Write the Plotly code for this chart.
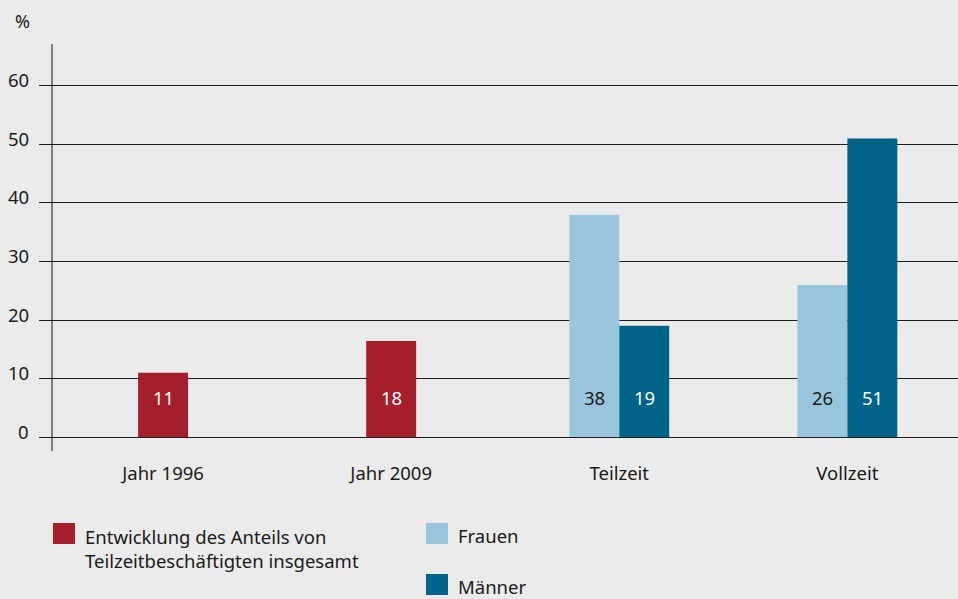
import plotly.graph_objects as go

categories = ["Jahr 1996", "Jahr 2009", "Teilzeit", "Vollzeit"]
gesamt_cats = ["Jahr 1996", "Jahr 2009"]
gesamt_values = [11, 16.4]
gesamt_labels = ["11", "18"]
gruppen_cats = ["Teilzeit", "Vollzeit"]
frauen_values = [38, 26]
maenner_values = [19, 51]
y_ticks = [0, 10, 20, 30, 40, 50, 60]

RED = "#a41f2b"
LIGHT = "#98c5dc"
DARK = "#006488"
BG = "#ebebeb"
TXT = "#1a1a1a"
FONT = "Noto Sans"
FS = 18.5
BW = 0.219

W, H = 958, 599
ML, MR, MT, MB = 39, 0, 80, 159
PW, PH = W - ML - MR, H - MT - MB

fig = go.Figure()
fig.add_trace(go.Bar(x=gesamt_cats, y=gesamt_values, width=BW, offset=-BW / 2,
                     marker=dict(color=RED, line=dict(width=0)),
                     name="Entwicklung des Anteils von Teilzeitbeschäftigten insgesamt"))
fig.add_trace(go.Bar(x=gruppen_cats, y=frauen_values, width=BW, offset=-BW,
                     marker=dict(color=LIGHT, line=dict(width=0)), name="Frauen"))
fig.add_trace(go.Bar(x=gruppen_cats, y=maenner_values, width=BW, offset=0,
                     marker=dict(color=DARK, line=dict(width=0)), name="Männer"))

annotations = []
for c, t in zip(gesamt_cats, gesamt_labels):
    annotations.append(dict(x=c, y=0, text=t, showarrow=False, yshift=40,
                            font=dict(color="white", size=FS, family=FONT)))
for c, v in zip(gruppen_cats, frauen_values):
    annotations.append(dict(x=c, y=0, text=str(v), showarrow=False, yshift=40, xshift=-BW * 228.1 / 2,
                            font=dict(color=TXT, size=FS, family=FONT)))
for c, v in zip(gruppen_cats, maenner_values):
    annotations.append(dict(x=c, y=0, text=str(v), showarrow=False, yshift=40, xshift=BW * 228.1 / 2,
                            font=dict(color="white", size=FS, family=FONT)))


def px_x(px):
    return (px - ML) / PW


def px_y(py):
    return (H - MB - py) / PH


# y tick labels, placed just above their gridlines
for v in y_ticks:
    annotations.append(dict(xref="paper", yref="y", x=px_x(31), y=v, yshift=6,
                            text=str(v), showarrow=False, xanchor="right", yanchor="middle",
                            font=dict(color=TXT, size=FS, family=FONT)))

# unit label
annotations.append(dict(xref="paper", yref="paper", x=px_x(22), y=px_y(21),
                        text="%", showarrow=False, xanchor="center", yanchor="middle",
                        font=dict(color=TXT, size=18, family=FONT)))

# custom legend
legend_items = [
    (53, 523, RED, 83, 548, "Entwicklung des Anteils von<br>Teilzeitbeschäftigten insgesamt"),
    (426, 523, LIGHT, 456, 535, "Frauen"),
    (426, 574, DARK, 456, 586, "Männer"),
]
shapes = []
for sx, sy, col, tx, ty, txt in legend_items:
    shapes.append(dict(type="rect", xref="paper", yref="paper",
                       x0=px_x(sx), x1=px_x(sx + 22), y0=px_y(sy), y1=px_y(sy + 21),
                       fillcolor=col, line=dict(width=0)))
    annotations.append(dict(xref="paper", yref="paper", x=px_x(tx), y=px_y(ty), text=txt,
                            showarrow=False, xanchor="left", yanchor="middle", align="left",
                            font=dict(color=TXT, size=FS, family=FONT)))

# vertical axis line
shapes.append(dict(type="line", xref="paper", yref="paper", x0=px_x(52), x1=px_x(52),
                   y0=px_y(451), y1=px_y(44), line=dict(color="#111", width=1)))

fig.update_layout(
    width=W, height=H,
    margin=dict(l=ML, r=MR, t=MT, b=MB),
    paper_bgcolor=BG, plot_bgcolor=BG,
    barmode="overlay", showlegend=False,
    font=dict(family=FONT, size=FS, color=TXT),
    xaxis=dict(type="category", categoryorder="array", categoryarray=categories,
               range=[-0.544, 3.485], showgrid=False, zeroline=False, showline=False,
               ticks="", ticklabelstandoff=20, tickfont=dict(size=FS)),
    yaxis=dict(range=[-0.5, 61], tickvals=y_ticks, showgrid=True, gridcolor="#1e1e1e", gridwidth=1,
               zeroline=True, zerolinecolor="#1e1e1e", zerolinewidth=1,
               showline=False, ticks="", showticklabels=False),
    shapes=shapes, annotations=annotations,
)

fig.write_html("out.html", config={"displayModeBar": False},
               post_script="document.body.style.margin='0';document.body.style.overflow='hidden';")
